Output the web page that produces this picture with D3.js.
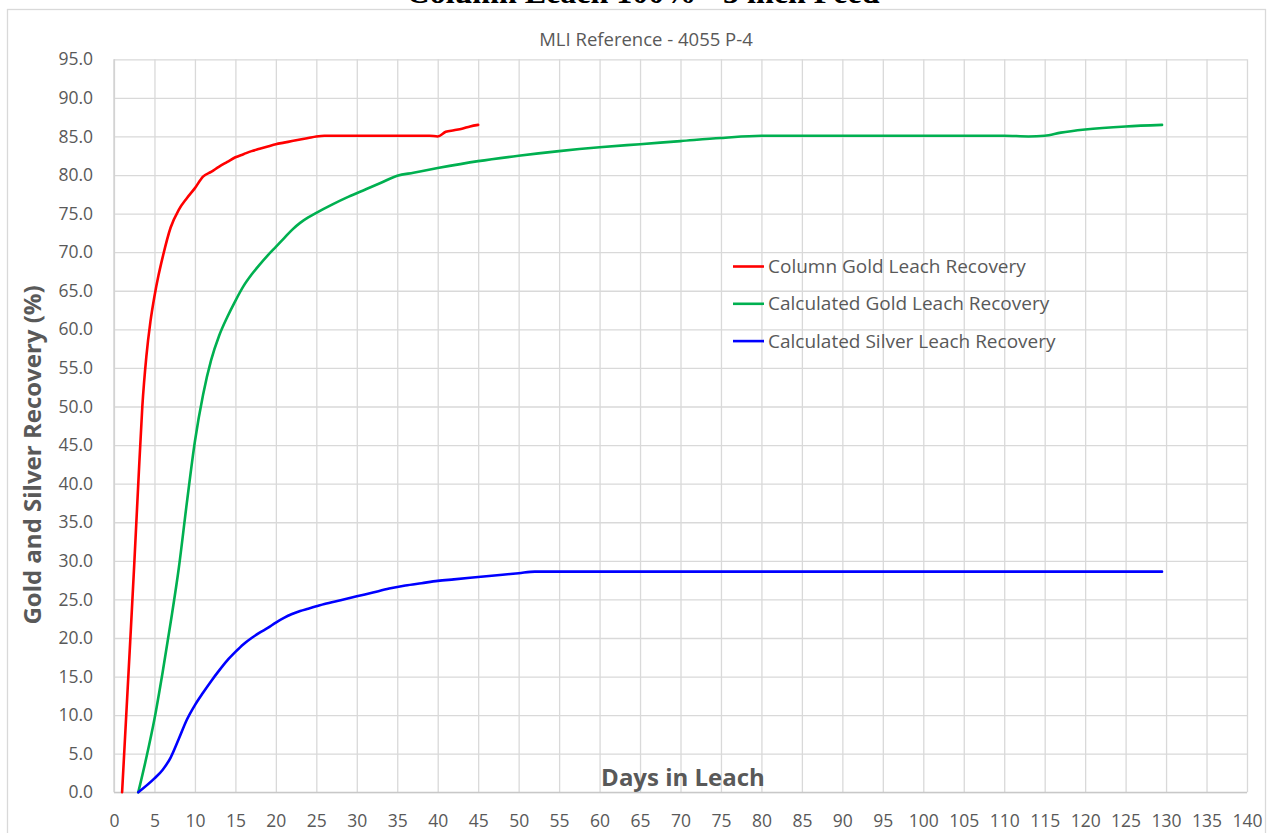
<!DOCTYPE html>
<html>
<head>
<meta charset="utf-8">
<script src="https://cdn.jsdelivr.net/npm/d3@7"></script>
<style>
  body { margin: 0; background: #fff; }
  svg { display: block; }
</style>
</head>
<body>
<div id="leach_chart"></div>
<script>
// ---- data ----
var seriesNames = ["Column Gold Leach Recovery", "Calculated Gold Leach Recovery", "Calculated Silver Leach Recovery"];
var seriesColors = ["#ff0000", "#00b050", "#0000ff"];

var redDays = [1, 2, 2.5, 3, 3.5, 4, 4.5, 5, 5.5, 6, 7, 8, 9, 10, 11, 12, 13, 14, 15, 16,
  17, 18, 19, 20, 21, 22, 23, 24, 25, 26, 30, 35, 39, 40, 41, 42, 43, 44, 45];
var redRecovery = [0, 19.5, 29.5, 40, 50, 56.5, 61, 64.3, 67, 69.3, 73.2, 75.5, 77, 78.3, 79.8, 80.4, 81.1, 81.7, 82.3, 82.7,
  83.1, 83.4, 83.7, 84.0, 84.2, 84.4, 84.6, 84.8, 85.0, 85.1, 85.1, 85.1, 85.1, 85.0, 85.6, 85.8, 86.0, 86.3, 86.5];

var greenDays = [3, 4, 5, 6, 7, 8, 9, 10, 11, 12, 13, 14, 15, 16, 17, 18, 19, 20, 21, 22,
  23, 24, 25, 27, 29, 31, 33, 35, 37, 40, 45, 50, 55, 60, 65, 70, 75, 80, 90, 100,
  110, 113, 115, 117, 120, 125, 129.5];
var greenRecovery = [0, 4.5, 9.5, 15.5, 22, 29, 37.5, 45.5, 51.5, 56.0, 59.2, 61.6, 63.7, 65.6, 67.1, 68.4, 69.6, 70.7, 71.8, 72.9,
  73.8, 74.5, 75.1, 76.2, 77.2, 78.1, 79.0, 79.9, 80.3, 80.9, 81.8, 82.5, 83.1, 83.6, 84.0, 84.4, 84.8, 85.1, 85.1, 85.1,
  85.1, 85.0, 85.1, 85.5, 85.9, 86.3, 86.5];

var blueDays = [3, 5, 6, 7, 8, 9, 10, 11, 12, 13, 14, 15, 16, 17, 18, 19, 20, 21, 22, 23,
  24, 25, 26, 28, 30, 32, 34, 36, 38, 40, 42, 44, 46, 48, 50, 52, 129.5];
var blueRecovery = [0, 1.8, 2.9, 4.5, 6.9, 9.4, 11.3, 12.9, 14.4, 15.8, 17.1, 18.2, 19.2, 20.0, 20.7, 21.3, 22.0, 22.6, 23.1, 23.5,
  23.8, 24.1, 24.4, 24.9, 25.4, 25.9, 26.4, 26.8, 27.1, 27.4, 27.6, 27.8, 28.0, 28.2, 28.4, 28.6, 28.6];

var xTickValues = d3.range(0, 141, 5);
var yTickValues = d3.range(0, 96, 5);

var titleText = "Column Leach 100% - 3 inch Feed";
var subtitleText = "MLI Reference - 4055 P-4";
var xTitle = "Days in Leach";
var yTitle = "Gold and Silver Recovery (%)";

// ---- layout ----
var W = 1269, H = 833;
var margin = {left: 114, right: 22, top: 59.3, bottom: 40.7};
var width = W - margin.left - margin.right;
var height = H - margin.top - margin.bottom;
var fontFamily = "'Open Sans', 'Noto Sans', sans-serif";
var textColor = "#595959";
var gridColor = "#d9d9d9";

var svg = d3.select("#leach_chart").append("svg")
    .attr("width", W)
    .attr("height", H);

// chart border
svg.append("rect")
    .attr("x", 7.5).attr("y", 9.5)
    .attr("width", 1258).attr("height", 850)
    .style("fill", "none")
    .style("stroke", gridColor)
    .style("stroke-width", 1.3);

// document title sitting mostly above the picture
svg.append("text")
    .attr("x", 643).attr("y", 3)
    .style("text-anchor", "middle")
    .style("font-family", "'Liberation Serif', 'Times New Roman', serif")
    .style("font-weight", "bold")
    .style("font-size", "32px")
    .style("fill", "#000")
    .text(titleText);

svg.append("text")
    .attr("x", 646).attr("y", 46)
    .style("text-anchor", "middle")
    .style("font-family", fontFamily)
    .style("font-size", "18.5px")
    .style("fill", textColor)
    .text(subtitleText);

var g = svg.append("g")
    .attr("transform", "translate(" + margin.left + "," + margin.top + ")");

var x = d3.scaleLinear().domain([0, 140]).range([0, width]);
var y = d3.scaleLinear().domain([0, 95]).range([height, 0]);

// gridlines
g.append("g")
    .attr("class", "grid")
    .attr("transform", "translate(0," + height + ")")
    .call(d3.axisBottom(x).tickValues(xTickValues).tickSize(-height).tickFormat(""));
g.append("g")
    .attr("class", "grid")
    .call(d3.axisLeft(y).tickValues(yTickValues).tickSize(-width).tickFormat(""));
g.selectAll(".grid line")
    .style("stroke", gridColor)
    .style("stroke-width", 1.3);
g.selectAll(".grid path").remove();

// plot frame lines (left + bottom)
g.append("line")
    .attr("x1", 0).attr("x2", width).attr("y1", height).attr("y2", height)
    .style("stroke", "#c8c8c8").style("stroke-width", 1.3);
g.append("line")
    .attr("x1", 0).attr("x2", 0).attr("y1", 0).attr("y2", height)
    .style("stroke", "#d0d0d0").style("stroke-width", 1.3);

// tick labels
var xAxis = g.append("g")
    .attr("class", "axis")
    .attr("transform", "translate(0," + height + ")")
    .call(d3.axisBottom(x).tickValues(xTickValues).tickSize(0).tickPadding(22));
var yAxis = g.append("g")
    .attr("class", "axis")
    .call(d3.axisLeft(y).tickValues(yTickValues).tickSize(0).tickPadding(21)
        .tickFormat(d3.format(".1f")));
g.selectAll(".axis path").remove();
g.selectAll(".axis text")
    .style("font-family", fontFamily)
    .style("font-size", "17.5px")
    .style("fill", textColor);

// axis titles
g.append("text")
    .attr("x", 683 - margin.left)
    .attr("y", 785.7 - margin.top)
    .style("text-anchor", "middle")
    .style("font-family", fontFamily)
    .style("font-weight", "bold")
    .style("font-size", "24px")
    .style("fill", textColor)
    .text(xTitle);

svg.append("text")
    .attr("transform", "translate(41,455) rotate(-90)")
    .style("text-anchor", "middle")
    .style("font-family", fontFamily)
    .style("font-weight", "bold")
    .style("font-size", "24px")
    .style("fill", textColor)
    .text(yTitle);

// lines
var valueline = d3.line()
    .x(function(d) { return x(d.day); })
    .y(function(d) { return y(d.value); })
    .curve(d3.curveMonotoneX);

function toPoints(days, vals) {
  return days.map(function(d, i) { return {day: d, value: vals[i]}; });
}
var allSeries = [
  toPoints(redDays, redRecovery),
  toPoints(greenDays, greenRecovery),
  toPoints(blueDays, blueRecovery)
];

for (var i = 0; i < allSeries.length; i++) {
  g.append("path")
      .datum(allSeries[i])
      .attr("d", valueline)
      .style("fill", "none")
      .style("stroke", seriesColors[i])
      .style("stroke-width", 2.6)
      .style("stroke-linejoin", "round")
      .style("stroke-linecap", "round");
}

// legend
var legend = svg.append("g").attr("transform", "translate(733,266.5)");
for (i = 0; i < seriesNames.length; i++) {
  var row = legend.append("g").attr("transform", "translate(0," + (i * 37.3) + ")");
  row.append("line")
      .attr("x1", 0).attr("x2", 31)
      .attr("y1", 0).attr("y2", 0)
      .style("stroke", seriesColors[i])
      .style("stroke-width", 2.6);
  row.append("text")
      .attr("x", 35)
      .attr("y", 0)
      .attr("dy", "0.35em")
      .style("font-family", fontFamily)
      .style("font-size", "19px")
      .style("fill", textColor)
      .text(seriesNames[i]);
}
</script>
</body>
</html>
